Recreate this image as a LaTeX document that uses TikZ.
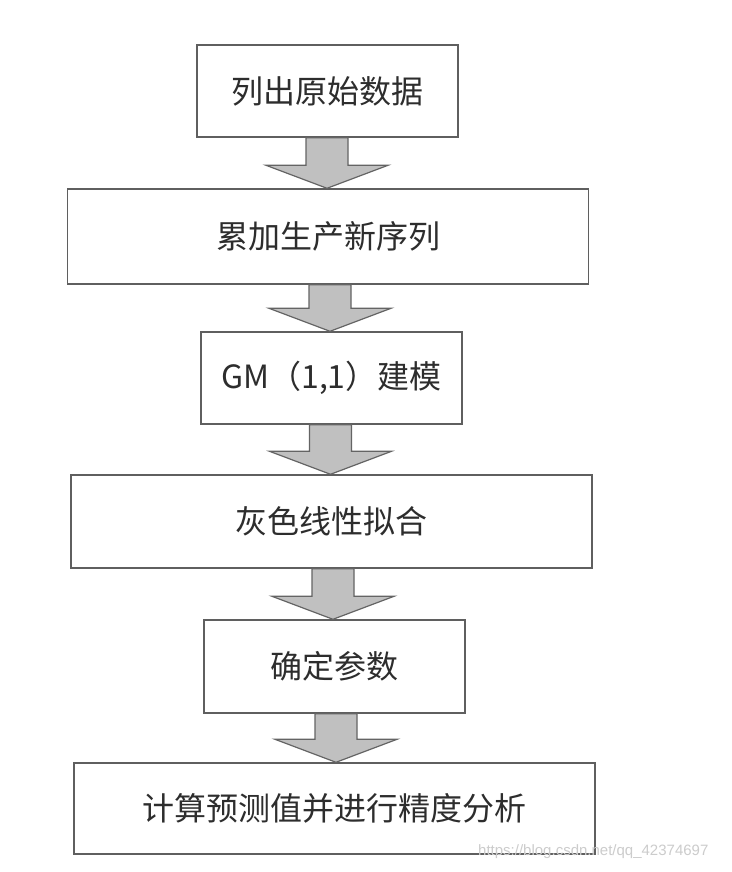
\documentclass[tikz,border=0pt]{standalone}
\usepackage{fontspec}
\newfontfamily\cjk{Noto Sans CJK SC}
\newfontfamily\wmfont{Liberation Sans}
\usetikzlibrary{calc}
\definecolor{boxline}{RGB}{95,95,95}
\definecolor{arrowfill}{RGB}{192,192,192}
\definecolor{arrowline}{RGB}{100,100,100}
\definecolor{txt}{RGB}{45,45,45}
\tikzset{
  stepbox/.style={draw=boxline, line width=1.4pt, fill=white, inner sep=0pt,
    minimum height=92pt, font=\cjk\fontsize{32}{38}\selectfont, text=txt},
  narrowbox/.style={stepbox, minimum width=261pt},
  widebox/.style={stepbox, minimum width=521pt},
  blockarrow/.style={draw=arrowline, fill=arrowfill, line width=1.2pt, line join=miter}
}
\newcommand\grayarrow[3]{%
  \path[blockarrow] let \p1=(#2.south), \p2=(#3.north) in
    (#1pt-21pt,\y1) -- (#1pt-21pt,\y2+23pt) -- (#1pt-61pt,\y2+23pt) -- (#1pt,\y2)
    -- (#1pt+61pt,\y2+23pt) -- (#1pt+21pt,\y2+23pt) -- (#1pt+21pt,\y1) -- cycle;}
\begin{document}
\begin{tikzpicture}[x=1pt,y=1pt]
  \useasboundingbox[fill=white] (0,0) rectangle (731,872);
  \node[narrowbox] (b1) at (327.5,781) {列出原始数据};
  \node[widebox, minimum height=95pt] (b2) at (328,635.5) {累加生产新序列};
  \node[narrowbox] (b3) at (331.5,494) {GM（1,1）建模};
  \node[widebox, minimum height=93pt] (b4) at (331.5,350.5) {灰色线性拟合};
  \node[narrowbox, minimum height=93pt] (b5) at (334.5,205.5) {确定参数};
  \node[widebox, minimum height=91pt] (b6) at (334.5,63.5) {计算预测值并进行精度分析};
  \grayarrow{327}{b1}{b2}
  \grayarrow{330}{b2}{b3}
  \grayarrow{330.5}{b3}{b4}
  \grayarrow{333}{b4}{b5}
  \grayarrow{336}{b5}{b6}
  \node[anchor=west, inner sep=0pt, text=black!20, font=\wmfont\fontsize{15}{18}\selectfont] (wm) at (478,20) {https://blog.csdn.net/qq\_42374697};
\end{tikzpicture}
\end{document}
